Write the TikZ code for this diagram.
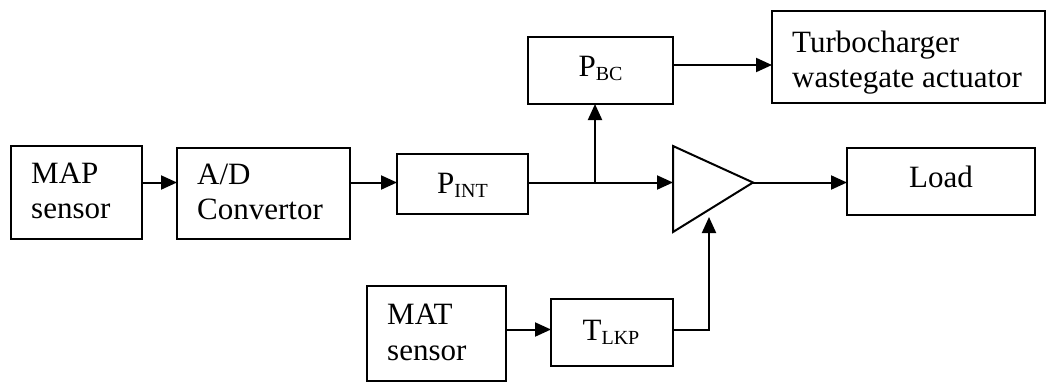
\documentclass[tikz,border=0pt]{standalone}
\usepackage{fontspec}
\setmainfont{Liberation Serif}
\usetikzlibrary{arrows.meta}
\newcommand\lowsub[1]{\raisebox{-4pt}{\fontsize{20}{20}\selectfont #1}}
\begin{document}
\begin{tikzpicture}[x=1pt,y=-1pt,
  blk/.style={draw, line width=2pt, inner sep=0pt, outer sep=0pt},
  lbl/.style={inner sep=0pt, font=\fontsize{31}{35.5}\selectfont, align=left},
  wire/.style={line width=2pt},
  arr/.style={line width=2pt, -{Triangle[length=16pt,width=14pt]}}]
\useasboundingbox (0,0) rectangle (1048,383);
% boxes
\node[blk, minimum width=131, minimum height=93] (map)   at (76.5,192.5) {};
\node[blk, minimum width=173, minimum height=91] (ad)    at (263.5,193.5) {};
\node[blk, minimum width=131, minimum height=60] (pint)  at (462.5,184) {};
\node[blk, minimum width=145, minimum height=67] (pbc)   at (600.5,70.5) {};
\node[blk, minimum width=273, minimum height=92] (turbo) at (908.5,57) {};
\node[blk, minimum width=188, minimum height=67] (load)  at (941,181.5) {};
\node[blk, minimum width=139, minimum height=95] (mat)   at (436.5,333.5) {};
\node[blk, minimum width=122, minimum height=67] (tlkp)  at (612,332.5) {};
% amplifier triangle
\coordinate (amptop) at (673,146);
\coordinate (ampbot) at (673,232);
\coordinate (amptip) at (753,182.5);
\draw[wire, line join=miter] (amptop) -- (amptip) -- (ampbot) -- cycle;
% labels
\node[lbl, anchor=west] (tmap)   at (31,191)    {MAP\\sensor};
\node[lbl, anchor=west] (tad)    at (197,192)   {A/D\\Convertor};
\node[lbl, anchor=west] (tturbo) at (792,62.5)  {Turbocharger\\wastegate actuator};
\node[lbl, anchor=west] (tmat)   at (387,332.5) {MAT\\sensor};
\node[lbl, anchor=base] (tpint)  at (462.5,193) {P\lowsub{INT}};
\node[lbl, anchor=base] (tpbc)   at (600.5,76)  {P\lowsub{BC}};
\node[lbl, anchor=base] (tload)  at (941,187)   {Load};
\node[lbl, anchor=base] (ttlkp)  at (611,340)   {T\lowsub{LKP}};
% rows
\coordinate (mainrow) at (0,182.5);
\coordinate (toprow)  at (0,65);
\coordinate (lowrow)  at (0,329.5);
\coordinate (branch)  at (595,182.5);
\coordinate (ampfb)   at (709,217);
% connectors
\draw[arr] (map.east |- mainrow) -- (ad.west |- mainrow);
\draw[arr] (ad.east |- mainrow) -- (pint.west |- mainrow);
\draw[arr] (pint.east |- mainrow) -- (amptop |- mainrow);
\draw[arr] (branch) -- (branch |- pbc.south);
\draw[arr] (pbc.east |- toprow) -- (turbo.west |- toprow);
\draw[arr] (amptip) -- (load.west |- amptip);
\draw[arr] (mat.east |- lowrow) -- (tlkp.west |- lowrow);
\draw[arr] (tlkp.east |- lowrow) -| (ampfb);
\end{tikzpicture}
\end{document}
